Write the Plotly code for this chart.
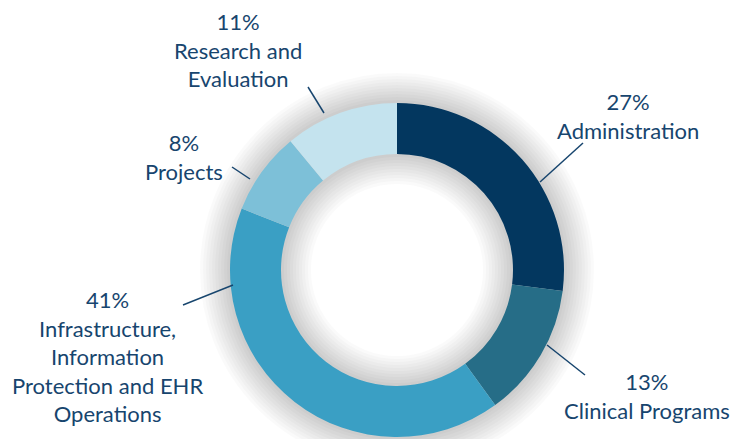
import plotly.graph_objects as go

# ---- data ----
categories = ["Administration", "Clinical Programs",
              "Infrastructure,<br>Information<br>Protection and EHR<br>Operations",
              "Projects", "Research and<br>Evaluation"]
values = [27, 13, 41, 8, 11]
colors = ["#03375f", "#266d87", "#3a9fc4", "#7dc0d8", "#c4e3ee"]

# ---- layout constants (pixels in the 740x439 window) ----
OFF = 8                      # page body margin
W, H = 740 - OFF, 439 - OFF  # figure size that fits the window
CX, CY = 397, 270
R_OUT, R_IN = 167, 116
TEXT_COLOR = "#17456e"
FONT = "Lato"

def px(x):
    return (x - OFF) / W

def py(y):
    return 1 - (y - OFF) / H

fig = go.Figure()
fig.add_trace(go.Pie(
    labels=categories, values=values, sort=False, direction="clockwise",
    rotation=0, hole=R_IN / R_OUT,
    marker=dict(colors=colors, line=dict(width=0)),
    textinfo="none", hoverinfo="label+percent", showlegend=False,
    domain=dict(x=[px(CX - R_OUT), px(CX + R_OUT)],
                y=[max(0, py(CY + R_OUT)), py(CY - R_OUT)]),
))

# soft glow/shadow around ring
shapes = []
mid_r = (R_OUT + R_IN) / 2
thick = R_OUT - R_IN
N = 10
for k in range(1, N + 1):
    w = thick + 2 * k * 3
    shapes.append(dict(type="circle", xref="paper", yref="paper", layer="below",
                       x0=px(CX - mid_r), x1=px(CX + mid_r),
                       y0=py(CY + mid_r), y1=py(CY - mid_r),
                       line=dict(color="rgba(0,0,0,0.02)", width=w),
                       fillcolor="rgba(0,0,0,0)"))

# leader lines: (text end, ring end) in pixels
leaders = [((583, 143), (540, 182)),
           ((585, 375), (547, 345)),
           ((183, 305), (233, 285)),
           ((232, 167), (250, 179)),
           ((308, 87), (324, 113))]
for (x0, y0), (x1, y1) in leaders:
    shapes.append(dict(type="line", xref="paper", yref="paper",
                       x0=px(x0), y0=py(y0), x1=px(x1), y1=py(y1),
                       line=dict(color=TEXT_COLOR, width=1.5)))

# label blocks: (center x, center y of block)
label_pos = [(628, 115.5), (647, 396), (107, 356), (184, 157), (238, 49.5)]
total = sum(values)
annotations = []
for cat, v, (x, y) in zip(categories, values, label_pos):
    annotations.append(dict(
        x=px(x), y=py(y), xref="paper", yref="paper",
        xanchor="center", yanchor="middle", align="center", showarrow=False,
        text=f"{round(100 * v / total)}%<br>{cat}",
        font=dict(family=FONT, size=22, color=TEXT_COLOR)))

fig.update_layout(
    width=W, height=H, margin=dict(l=0, r=0, t=0, b=0),
    paper_bgcolor="white", plot_bgcolor="white",
    shapes=shapes, annotations=annotations, showlegend=False,
)
fig.write_html("out.html")
